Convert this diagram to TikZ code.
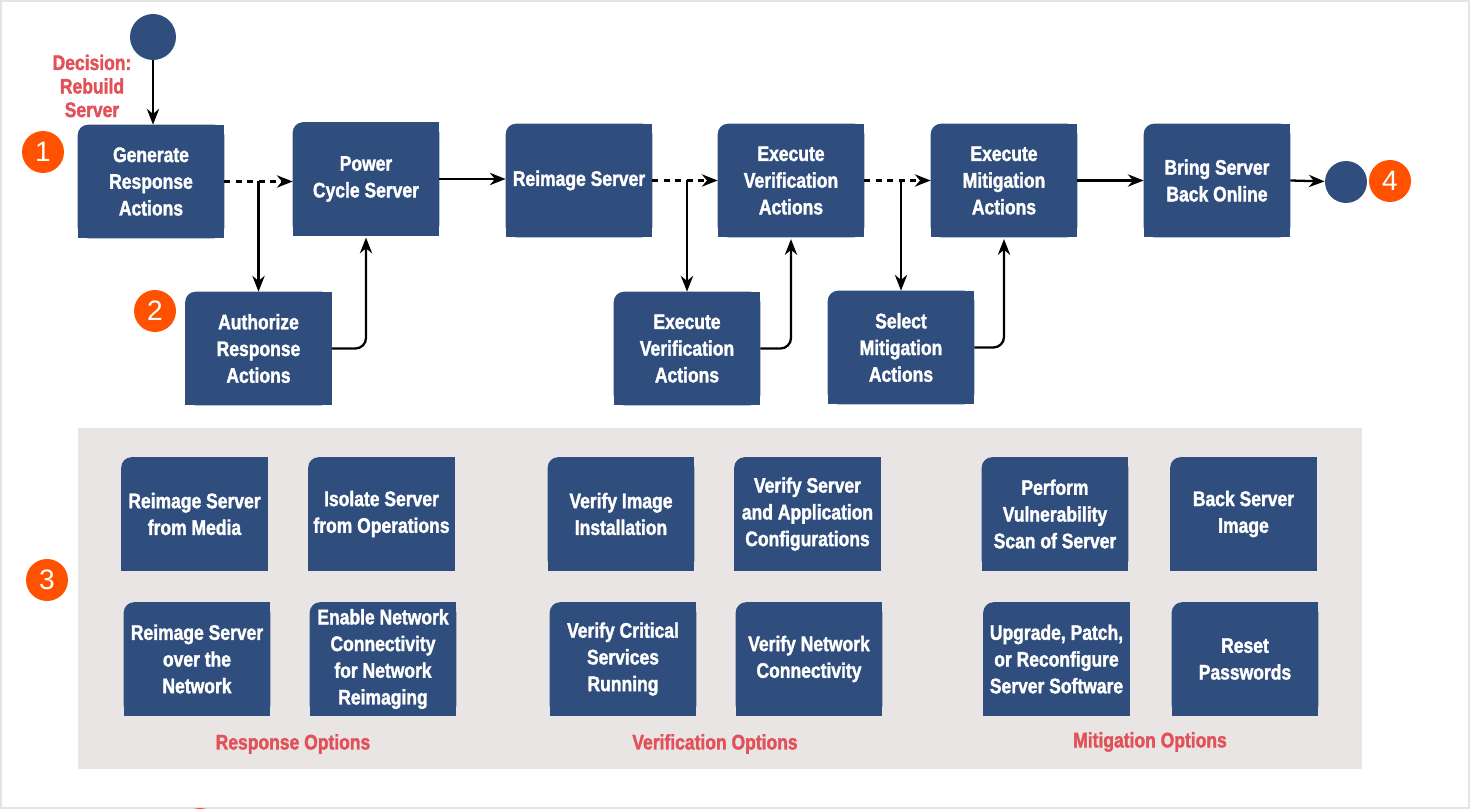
\documentclass[tikz,border=0pt]{standalone}
\usepackage{fontspec}
\setmainfont{Liberation Sans}
\newfontfamily\narrowfont[FakeStretch=0.83, FakeBold=1.6]{Liberation Sans Bold}
\usetikzlibrary{arrows.meta,backgrounds}
\definecolor{boxblue}{HTML}{2F4E7E}
\definecolor{badgeorange}{HTML}{FF5100}
\definecolor{labelred}{HTML}{E25058}
\definecolor{panelgray}{HTML}{E9E5E4}
\definecolor{framegray}{HTML}{E4E4E4}
\tikzset{
  stepbox/.style={text=white, font=\narrowfont\fontsize{12}{15.2}\selectfont,
    align=center, minimum width=2.92cm, minimum height=2.26cm, inner sep=0pt},
  badge/.style={circle, fill=badgeorange, text=white, minimum size=0.84cm,
    inner sep=0pt, font=\fontsize{16}{16}\selectfont},
  terminal/.style={circle, fill=boxblue, inner sep=0pt},
  redlabel/.style={text=labelred, align=center,
    font=\narrowfont\fontsize{12}{13.4}\selectfont},
  arr/.style={-{Stealth[length=9pt,width=7pt]}, line width=1.3pt},
  dasharr/.style={arr, dash pattern=on 3.5pt off 3pt}
}

\begin{document}
\begin{tikzpicture}[x=0.02cm,y=-0.02cm]
  \useasboundingbox (0,0) rectangle (1471,810);
  \draw[framegray, line width=1pt] (1,1) rectangle (1469,808);

  % main flow
  \node[terminal, minimum size=0.92cm] (start) at (153,37) {};
  \node[redlabel] (decision) at (92,86) {Decision:\\Rebuild\\Server};
  \node[stepbox] (gen) at (151,181.5) {Generate\\Response\\Actions};
  \node[stepbox] (pwr) at (366,179) {Power\\Cycle Server};
  \node[stepbox] (rei) at (579,180.5) {Reimage Server};
  \node[stepbox] (exv) at (791,180.5) {Execute\\Verification\\Actions};
  \node[stepbox] (exm) at (1004,180.5) {Execute\\Mitigation\\Actions};
  \node[stepbox] (brg) at (1217,180.5) {Bring Server\\Back Online};
  \node[terminal, minimum size=0.84cm] (stop) at (1346,182) {};

  \node[stepbox] (auth) at (258.5,348.5) {Authorize\\Response\\Actions};
  \node[stepbox] (exv2) at (687,348.5) {Execute\\Verification\\Actions};
  \node[stepbox] (selm) at (901,347.5) {Select\\Mitigation\\Actions};

  % badges
  \node[badge] (b1) at (43,152) {1};
  \node[badge] (b2) at (155,311) {2};
  \node[badge] (b3) at (47,580) {3};
  \node[badge] (b4) at (1390,181) {4};

  % option boxes
  \node[stepbox] (ro1) at (194.5,514) {Reimage Server\\from Media};
  \node[stepbox] (ro2) at (381.5,514) {Isolate Server\\from Operations};
  \node[stepbox] (ro3) at (197,659) {Reimage Server\\over the\\Network};
  \node[stepbox] (ro4) at (383,659) {Enable Network\\Connectivity\\for Network\\Reimaging};
  \node[stepbox] (vo1) at (621,514) {Verify Image\\Installation};
  \node[stepbox] (vo2) at (807.5,514) {Verify Server\\and Application\\Configurations};
  \node[stepbox] (vo3) at (623,659) {Verify Critical\\Services\\Running};
  \node[stepbox] (vo4) at (809,659) {Verify Network\\Connectivity};
  \node[stepbox] (mo1) at (1055,514) {Perform\\Vulnerability\\Scan of Server};
  \node[stepbox] (mo2) at (1243.5,514) {Back Server\\Image};
  \node[stepbox] (mo3) at (1056.5,659) {Upgrade, Patch,\\or Reconfigure\\Server Software};
  \node[stepbox] (mo4) at (1245,659) {Reset\\Passwords};

  \node[redlabel] (resp) at (293,744) {Response Options};
  \node[redlabel] (verif) at (715,744) {Verification Options};
  \node[redlabel] (mitig) at (1150,742) {Mitigation Options};

  % box backgrounds, only the top left corner is rounded
  \begin{scope}[on background layer]
    \fill[panelgray] (78,428) rectangle (1362,769);
    \foreach \n in {gen,pwr,rei,exv,exm,brg,auth,exv2,selm,
                    ro1,ro2,ro3,ro4,vo1,vo2,vo3,vo4,mo1,mo2,mo3,mo4} {
      \fill[boxblue, rounded corners=6pt] (\n.south west) rectangle (\n.north east);
      \fill[boxblue] (\n.north) rectangle (\n.south east);
      \fill[boxblue] (\n.west) rectangle (\n.south);
    }
  \end{scope}

  % connectors
  \coordinate (j1) at (gen.east -| auth.north);
  \coordinate (j2) at (rei.east -| exv2.north);
  \coordinate (j3) at (exv.east -| selm.north);
  \draw[arr] (start) -- (start |- gen.north);
  \draw[dasharr] (gen.east) -- (gen.east -| pwr.west);
  \draw[arr] (j1) -- (auth.north);
  \draw[arr, rounded corners=6pt, shorten >=1pt] (auth.east) -| (pwr.south);
  \draw[arr] (pwr.east) -- (pwr.east -| rei.west);
  \draw[dasharr] (rei.east) -- (exv.west);
  \draw[arr] (j2) -- (exv2.north);
  \draw[arr, rounded corners=6pt, shorten >=1pt] (exv2.east) -| (exv.south);
  \draw[dasharr] (exv.east) -- (exm.west);
  \draw[arr] (j3) -- (selm.north);
  \draw[arr, rounded corners=6pt, shorten >=1pt] (selm.east) -| (exm.south);
  \draw[arr] (exm.east) -- (brg.west);
  \draw[arr] (brg.east) -- (stop);

  % badge cut off at the lower edge
  \begin{scope}
    \clip (0,0) rectangle (1471,808);
    \fill[badgeorange] (200,829) circle[radius=0.42cm];
  \end{scope}
\end{tikzpicture}
\end{document}
